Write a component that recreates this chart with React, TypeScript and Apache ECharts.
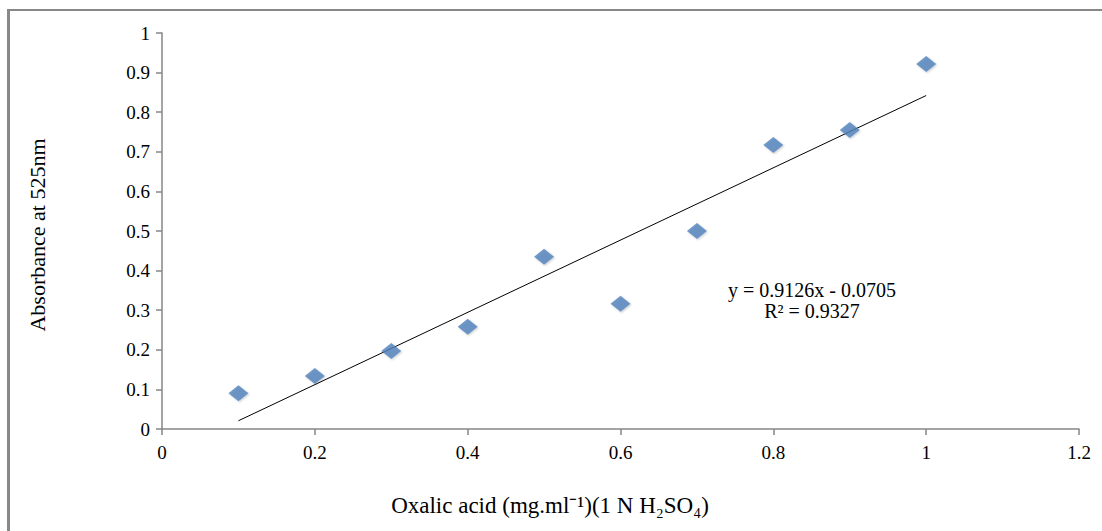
import React, { useEffect, useRef } from "react";
import * as echarts from "echarts";

const concentrations = [0.1, 0.2, 0.3, 0.4, 0.5, 0.6, 0.7, 0.8, 0.9, 1.0];
const absorbance = [0.09, 0.134, 0.197, 0.258, 0.435, 0.316, 0.5, 0.717, 0.755, 0.922];
const slope = 0.9126;
const intercept = -0.0705;
const equationLines = ["y = 0.9126x - 0.0705", "R² = 0.9327"];
const xTitle = "Oxalic acid (mg.ml⁻¹)(1 N H₂SO₄)";
const yTitle = "Absorbance at 525nm";

export default function App() {
  const ref = useRef<HTMLDivElement>(null);
  useEffect(() => {
    if (!ref.current) return;
    const chart = echarts.init(ref.current, undefined, { renderer: "svg" });
    const serif = "'Liberation Serif', 'Times New Roman', serif";
    const xs = [concentrations[0], concentrations[concentrations.length - 1]];
    const trend = xs.map((x) => [x, slope * x + intercept]);
    chart.setOption({
      animation: false,
      backgroundColor: "#ffffff",
      grid: { left: 162, right: 23, top: 33, bottom: 102 },
      xAxis: {
        type: "value",
        min: 0,
        max: 1.2,
        interval: 0.2,
        axisLine: { lineStyle: { color: "#868686", width: 1.5 } },
        axisTick: { show: true, length: 6, lineStyle: { color: "#868686", width: 1.5 } },
        axisLabel: { fontFamily: serif, fontSize: 19, color: "#000", margin: 14 },
        splitLine: { show: false },
      },
      yAxis: {
        type: "value",
        min: 0,
        max: 1,
        interval: 0.1,
        axisLine: { show: true, lineStyle: { color: "#868686", width: 1.5 } },
        axisTick: { show: true, length: 6, lineStyle: { color: "#868686", width: 1.5 } },
        axisLabel: { fontFamily: serif, fontSize: 19, color: "#000", margin: 12 },
        splitLine: { show: false },
      },
      graphic: [
        { type: "rect", shape: { x: 7, y: 9, width: 1095, height: 2 }, style: { fill: "#888888" } },
        { type: "rect", shape: { x: 7, y: 9, width: 3, height: 522 }, style: { fill: "#888888" } },
        {
          type: "text",
          x: 812,
          y: 300,
          style: {
            text: equationLines.join("\n"),
            font: `20px ${serif}`,
            fill: "#000",
            align: "center",
            verticalAlign: "middle",
            lineHeight: 21,
          },
        },
        {
          type: "text",
          x: 550,
          y: 505,
          style: {
            text: xTitle,
            font: `23px ${serif}`,
            fill: "#000",
            align: "center",
            verticalAlign: "middle",
          },
        },
        {
          type: "text",
          x: 37,
          y: 235,
          rotation: Math.PI / 2,
          style: {
            text: yTitle,
            font: `22px ${serif}`,
            fill: "#000",
            align: "center",
            verticalAlign: "middle",
          },
        },
      ],
      series: [
        {
          type: "line",
          data: trend,
          symbol: "none",
          lineStyle: { color: "#000", width: 1 },
          z: 1,
        },
        {
          type: "scatter",
          data: concentrations.map((x, i) => [x, absorbance[i]]),
          symbol: "diamond",
          symbolSize: [20, 16],
          itemStyle: {
            color: "#4F81BD",
            shadowColor: "rgba(0,0,0,0.25)",
            shadowBlur: 2,
            shadowOffsetX: 1,
            shadowOffsetY: 1,
          },
          z: 2,
        },
      ],
    });
    return () => chart.dispose();
  }, []);
  return (
    <div
      ref={ref}
      style={{ position: "absolute", left: 0, top: 0, width: 1102, height: 531 }}
    />
  );
}
